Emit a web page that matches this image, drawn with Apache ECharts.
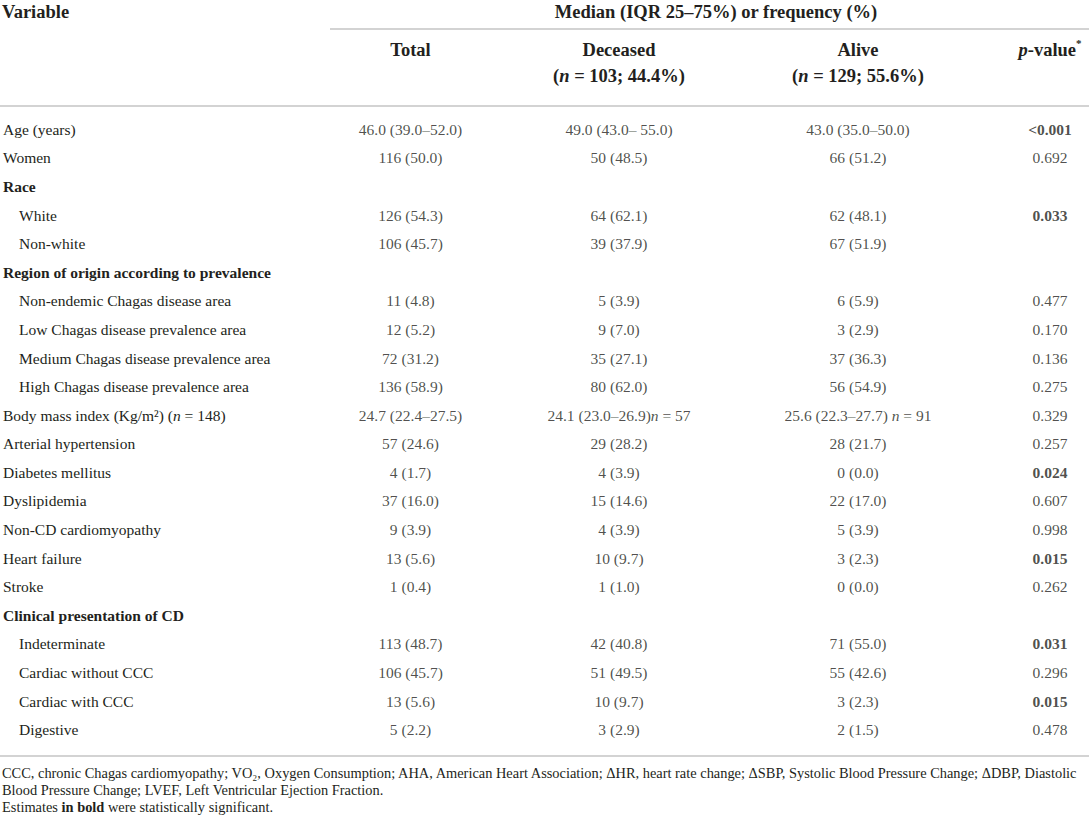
<!DOCTYPE html>
<html>
<head>
<meta charset="utf-8">
<title>Baseline characteristics</title>
<script src="https://cdn.jsdelivr.net/npm/echarts@6/dist/echarts.min.js"></script>
<style>
  html, body { margin: 0; padding: 0; background: #fff; }
  #chart { width: 1089px; height: 824px; }
</style>
</head>
<body>
<div id="chart"></div>
<script>
const rowLabels = [
  'Age (years)', 'Women', 'Race', 'White', 'Non-white',
  'Region of origin according to prevalence',
  'Non-endemic Chagas disease area', 'Low Chagas disease prevalence area',
  'Medium Chagas disease prevalence area', 'High Chagas disease prevalence area',
  'Body mass index (Kg/m²) (n = 148)', 'Arterial hypertension', 'Diabetes mellitus',
  'Dyslipidemia', 'Non-CD cardiomyopathy', 'Heart failure', 'Stroke',
  'Clinical presentation of CD', 'Indeterminate', 'Cardiac without CCC',
  'Cardiac with CCC', 'Digestive'
];
// '' = plain row, 'group' = bold section heading, 'sub' = indented item
const rowKinds = [
  '', '', 'group', 'sub', 'sub', 'group', 'sub', 'sub', 'sub', 'sub',
  '', '', '', '', '', '', '', 'group', 'sub', 'sub', 'sub', 'sub'
];
const columnHeaders = ['Total', 'Deceased', 'Alive', 'p-value'];
const totalValues = [
  '46.0 (39.0–52.0)', '116 (50.0)', '', '126 (54.3)', '106 (45.7)', '',
  '11 (4.8)', '12 (5.2)', '72 (31.2)', '136 (58.9)', '24.7 (22.4–27.5)',
  '57 (24.6)', '4 (1.7)', '37 (16.0)', '9 (3.9)', '13 (5.6)', '1 (0.4)', '',
  '113 (48.7)', '106 (45.7)', '13 (5.6)', '5 (2.2)'
];
const deceasedValues = [
  '49.0 (43.0– 55.0)', '50 (48.5)', '', '64 (62.1)', '39 (37.9)', '',
  '5 (3.9)', '9 (7.0)', '35 (27.1)', '80 (62.0)', '24.1 (23.0–26.9)n = 57',
  '29 (28.2)', '4 (3.9)', '15 (14.6)', '4 (3.9)', '10 (9.7)', '1 (1.0)', '',
  '42 (40.8)', '51 (49.5)', '10 (9.7)', '3 (2.9)'
];
const aliveValues = [
  '43.0 (35.0–50.0)', '66 (51.2)', '', '62 (48.1)', '67 (51.9)', '',
  '6 (5.9)', '3 (2.9)', '37 (36.3)', '56 (54.9)', '25.6 (22.3–27.7) n = 91',
  '28 (21.7)', '0 (0.0)', '22 (17.0)', '5 (3.9)', '3 (2.3)', '0 (0.0)', '',
  '71 (55.0)', '55 (42.6)', '3 (2.3)', '2 (1.5)'
];
const pValues = [
  '<0.001', '0.692', '', '0.033', '', '',
  '0.477', '0.170', '0.136', '0.275', '0.329',
  '0.257', '0.024', '0.607', '0.998', '0.015', '0.262', '',
  '0.031', '0.296', '0.015', '0.478'
];
const footnotes = [
  'CCC, chronic Chagas cardiomyopathy; VO₂, Oxygen Consumption; AHA, American Heart Association; ΔHR, heart rate change; ΔSBP, Systolic Blood Pressure Change; ΔDBP, Diastolic',
  'Blood Pressure Change; LVEF, Left Ventricular Ejection Fraction.',
  'Estimates {b|in bold} were statistically significant.'
];

const FONT = "'Liberation Serif', 'DejaVu Serif', serif";
const INK = '#231f20';
const RULE = '#c4c4c4';
const HEAD = 18.5;
const BODY = 15.5;
const NOTE = 14.4;

// layout of the columns (grid boxes), top/bottom shared by all
const colBoxes = [
  { left: 310, width: 200 },
  { left: 519, width: 200 },
  { left: 758, width: 200 },
  { left: 1011, width: 80 }
];
const TOP = 115, BOTTOM = 80;

const italicN = s => s.replace(/n = /, '{i|n} = ');
const isSignificant = p => p !== '' && parseFloat(p.replace('<', '')) < 0.05;

const headerRich = {
  h: { fontFamily: FONT, fontSize: HEAD, fontWeight: 'bold', color: INK, lineHeight: 26 },
  hi: { fontFamily: FONT, fontSize: HEAD, fontWeight: 'bold', fontStyle: 'italic', color: INK, lineHeight: 26 },
  sup: { fontFamily: FONT, fontSize: 11, fontWeight: 'bold', color: INK, verticalAlign: 'top', padding: [0, 0, 10, 0] }
};
const headerText = {
  Total: '{h|Total}\n{h| }',
  Deceased: '{h|Deceased}\n{h|(}{hi|n}{h| = 103; 44.4%)}',
  Alive: '{h|Alive}\n{h|(}{hi|n}{h| = 129; 55.6%)}',
  'p-value': '{hi|p}{h|-value}{sup|*}\n{h| }'
};

const cellRich = {
  i: { fontStyle: 'italic' },
  b: { fontWeight: 'bold' }
};

const grids = colBoxes.map(b => ({ left: b.left, width: b.width, top: TOP, bottom: BOTTOM }));

const xAxes = columnHeaders.map((h, k) => ({
  type: 'category',
  gridIndex: k,
  position: 'top',
  data: [h],
  axisLine: { show: false },
  axisTick: { show: false },
  splitLine: { show: false },
  axisLabel: {
    interval: 0,
    margin: 26,
    formatter: v => headerText[v],
    rich: headerRich
  }
}));

const yAxes = columnHeaders.map((h, k) => ({
  type: 'category',
  gridIndex: k,
  inverse: true,
  data: rowLabels,
  show: k === 0,
  axisLine: { show: false },
  axisTick: { show: false },
  splitLine: { show: false },
  axisLabel: {
    interval: 0,
    align: 'left',
    margin: colBoxes[0].left - 2,
    fontFamily: FONT,
    fontSize: BODY,
    color: INK,
    formatter: (v, i) => {
      const kind = rowKinds[i];
      if (kind === 'group') return '{g|' + v + '}';
      if (kind === 'sub') return '{s|' + v + '}';
      return v.replace(/\(n = /, '({i|n} = ');
    },
    rich: {
      g: { fontFamily: FONT, fontSize: BODY, fontWeight: 'bold', color: INK },
      s: { fontFamily: FONT, fontSize: BODY, color: INK, padding: [0, 0, 0, 16] },
      i: { fontFamily: FONT, fontSize: BODY, fontStyle: 'italic', color: INK }
    }
  }
}));

function cellSeries(name, values, k, fmt) {
  return {
    name: name,
    type: 'scatter',
    xAxisIndex: k,
    yAxisIndex: k,
    silent: true,
    symbolSize: 1,
    itemStyle: { color: 'rgba(0,0,0,0)' },
    data: values.map((v, i) => [0, i, v]).filter(d => d[2] !== ''),
    label: {
      show: true,
      position: 'inside',
      fontFamily: FONT,
      fontSize: BODY,
      color: INK,
      formatter: p => fmt(p.value[2]),
      rich: cellRich
    }
  };
}

const series = [
  cellSeries('Total', totalValues, 0, italicN),
  cellSeries('Deceased', deceasedValues, 1, italicN),
  cellSeries('Alive', aliveValues, 2, italicN),
  cellSeries('p-value', pValues, 3, v => isSignificant(v) ? '{b|' + v + '}' : v)
];

const rule = (x1, y, x2) => ({
  type: 'line',
  silent: true,
  shape: { x1: x1, y1: y, x2: x2, y2: y },
  style: { stroke: RULE, lineWidth: 1.5 }
});

const graphic = [
  {
    type: 'text', x: 2, y: 12, silent: true,
    style: { text: 'Variable', font: 'bold ' + HEAD + 'px ' + FONT, fill: INK, verticalAlign: 'middle' }
  },
  {
    type: 'text', x: 716, y: 12, silent: true,
    style: {
      text: 'Median (IQR 25–75%) or frequency (%)',
      font: 'bold ' + HEAD + 'px ' + FONT, fill: INK, align: 'center', verticalAlign: 'middle'
    }
  },
  rule(330, 29, 1089),
  rule(0, 106, 1089),
  rule(0, 756, 1089),
  {
    type: 'text', x: 2, y: 765, silent: true,
    style: {
      text: footnotes.join('\n'),
      fontFamily: FONT, fontSize: NOTE, fill: INK, lineHeight: 16.7,
      verticalAlign: 'top',
      rich: { b: { fontFamily: FONT, fontSize: NOTE, fontWeight: 'bold', fill: INK, lineHeight: 16.7 } }
    }
  }
];

const chart = echarts.init(document.getElementById('chart'), null, { renderer: 'svg' });
chart.setOption({
  backgroundColor: '#fff',
  animation: false,
  grid: grids,
  xAxis: xAxes,
  yAxis: yAxes,
  series: series,
  graphic: graphic
});
</script>
</body>
</html>
